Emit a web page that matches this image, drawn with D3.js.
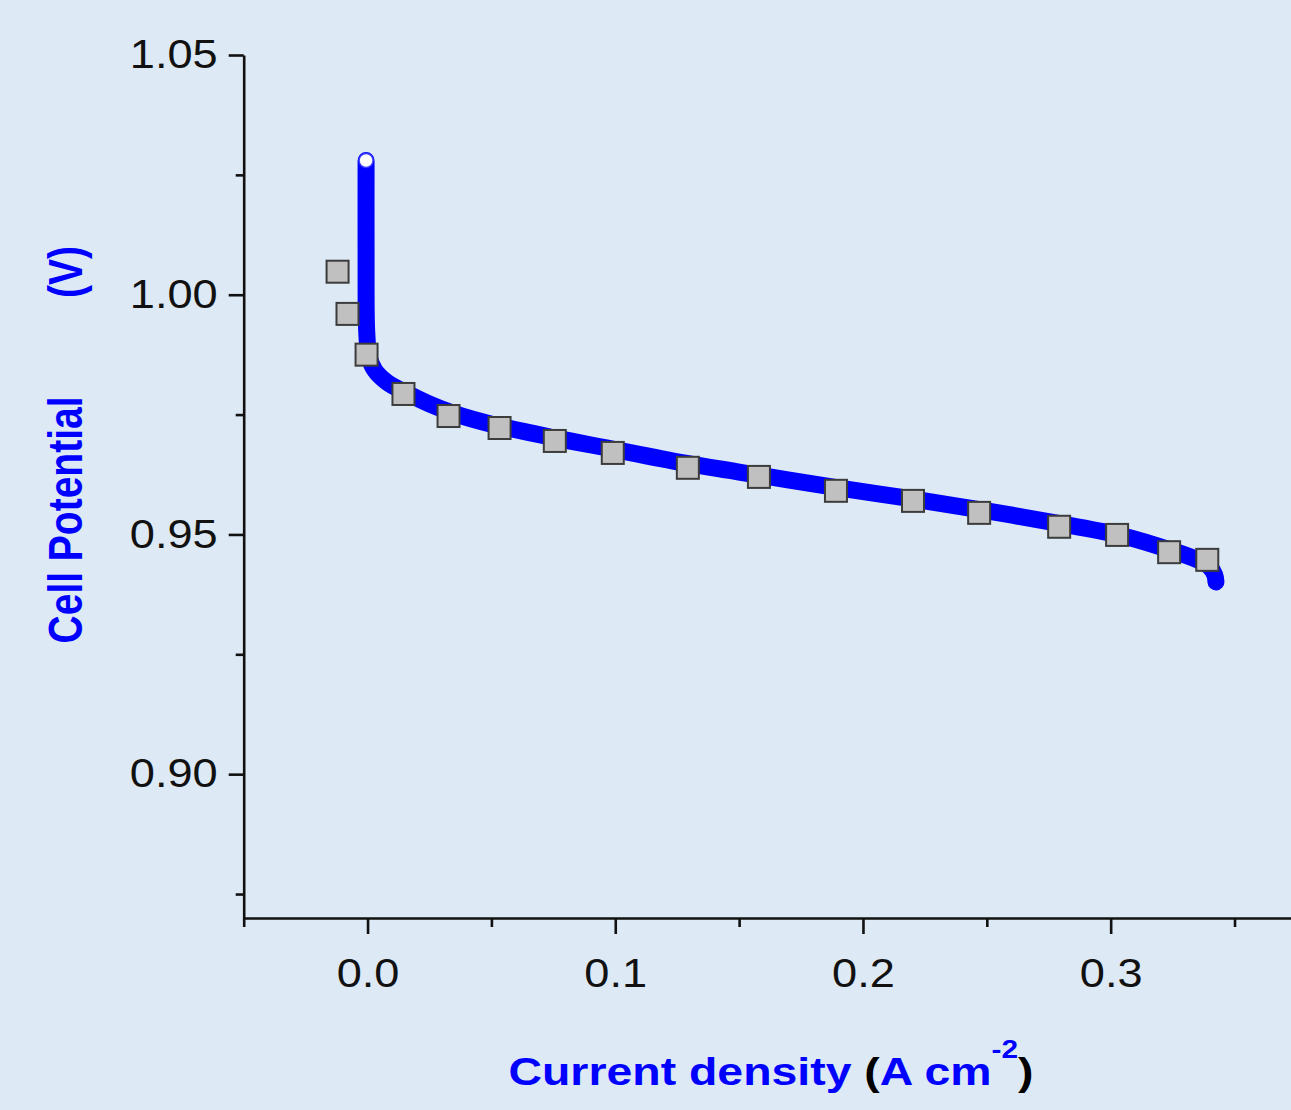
<!DOCTYPE html>
<html>
<head>
<meta charset="utf-8">
<script src="https://cdn.jsdelivr.net/npm/d3@7"></script>
<style>
  html, body { margin: 0; padding: 0; background: #dde9f5; }
  svg { display: block; }
</style>
</head>
<body>
<svg width="1291" height="1110"></svg>
<script>
// model curve (current density, cell potential)
const curveX = [-0.0006, -0.0006, -0.0005, -0.0002, 0.0005, 0.0030, 0.0080, 0.0150, 0.0250, 0.0350,
  0.0500, 0.0750, 0.1000, 0.1300, 0.1600, 0.1900, 0.2200, 0.2500, 0.2800, 0.3050,
  0.3250, 0.3350, 0.3400, 0.3420, 0.3425];
const curveY = [1.0280, 1.0100, 0.9950, 0.9910, 0.9872, 0.9842, 0.9817, 0.9797, 0.9772, 0.9752,
  0.9730, 0.9702, 0.9677, 0.9647, 0.9622, 0.9597, 0.9574, 0.9549, 0.9522, 0.9497,
  0.9466, 0.9447, 0.9432, 0.9416, 0.9401];

// measured points
const measX = [-0.0121, -0.0081, -0.0004, 0.0145, 0.0327, 0.0533, 0.0756, 0.0990, 0.1293,
  0.1580, 0.1891, 0.2202, 0.2469, 0.2792, 0.3026, 0.3236, 0.3390];
const measY = [1.0048, 0.9960, 0.9875, 0.9793, 0.9747, 0.9722, 0.9695, 0.9670, 0.9639,
  0.9620, 0.9591, 0.9570, 0.9545, 0.9516, 0.9499, 0.9463, 0.9447];

const xMajor = [0.0, 0.1, 0.2, 0.3];
const xMinor = [-0.05, 0.05, 0.15, 0.25, 0.35];
const yMajor = [0.90, 0.95, 1.00, 1.05];
const yMinor = [0.875, 0.925, 0.975, 1.025];

const svg = d3.select("svg");
const plotL = 243.7, plotR = 1291, plotT = 55, plotB = 918;
const sx = 1.13;   // tick labels are drawn a bit wide in the original
const sxT = 1.25;  // y title

const x = d3.scaleLinear().domain([-0.05, 0.3728]).range([plotL, plotR]);
const y = d3.scaleLinear().domain([0.87, 1.05]).range([plotB, plotT]);

const font = "'Liberation Sans', Arial, sans-serif";

// axes
const xAxis = svg.append("g").attr("transform", `translate(0,${plotB})`);
xAxis.call(d3.axisBottom(x).tickValues(xMajor).tickSize(16).tickSizeOuter(0).tickPadding(25).tickFormat(d3.format(".1f")));
const xMin = svg.append("g").attr("transform", `translate(0,${plotB})`);
xMin.call(d3.axisBottom(x).tickValues(xMinor).tickSize(9).tickSizeOuter(0).tickFormat(""));
xMin.select(".domain").remove();

const yAxis = svg.append("g").attr("transform", `translate(${plotL},0)`);
yAxis.call(d3.axisLeft(y).tickValues(yMajor).tickSize(15).tickSizeOuter(0).tickPadding(11).tickFormat(d3.format(".2f")));
const yMin = svg.append("g").attr("transform", `translate(${plotL},0)`);
yMin.call(d3.axisLeft(y).tickValues(yMinor).tickSize(8).tickSizeOuter(0).tickFormat(""));
yMin.select(".domain").remove();

svg.selectAll(".domain, .tick line").attr("stroke", "#111").attr("stroke-width", 2.6);
svg.selectAll(".tick text").attr("font-family", font).attr("font-size", 40).attr("fill", "#111")
  .attr("transform", `scale(${sx},1)`);
yAxis.selectAll(".tick text").attr("x", -26 / sx);

// curve
const pts = curveX.map((d, i) => [d, curveY[i]]);
const line = d3.line().x(d => x(d[0])).y(d => y(d[1])).curve(d3.curveCatmullRom.alpha(0.5));
svg.append("path")
  .attr("d", line(pts))
  .attr("fill", "none")
  .attr("stroke", "#0000ff")
  .attr("stroke-width", 17)
  .attr("stroke-linecap", "round")
  .attr("stroke-linejoin", "round");

svg.append("circle")
  .attr("cx", x(curveX[0])).attr("cy", y(curveY[0]))
  .attr("r", 7)
  .attr("fill", "#fff")
  .attr("stroke", "#3a3aff")
  .attr("stroke-width", 1.5);

// measured squares
const sz = 22;
svg.append("g").selectAll("rect")
  .data(measX.map((d, i) => [d, measY[i]]))
  .enter().append("rect")
  .attr("x", d => x(d[0]) - sz / 2)
  .attr("y", d => y(d[1]) - sz / 2)
  .attr("width", sz).attr("height", sz)
  .attr("fill", "#c0c0c0")
  .attr("stroke", "#3c3c3c")
  .attr("stroke-width", 2);

// axis titles
const xt = svg.append("text")
  .attr("transform", `translate(771,1085) scale(1.19,1)`)
  .attr("text-anchor", "middle")
  .attr("font-family", font).attr("font-weight", "bold").attr("font-size", 39)
  .attr("fill", "#0000ff");
xt.append("tspan").text("Current density ");
xt.append("tspan").attr("fill", "#000").text("(");
xt.append("tspan").text("A cm");
xt.append("tspan").attr("font-size", 25).attr("dy", -27).text("-2");
xt.append("tspan").attr("fill", "#000").attr("dy", 27).text(")");

const yt = svg.append("g").attr("transform", `translate(82,0) scale(${sxT},1) rotate(-90)`);
yt.append("text")
  .attr("x", -520).attr("y", 0)
  .attr("text-anchor", "middle")
  .attr("font-family", font).attr("font-weight", "bold").attr("font-size", 39)
  .attr("fill", "#0000ff")
  .text("Cell Potential");
yt.append("text")
  .attr("x", -272).attr("y", 0)
  .attr("text-anchor", "middle")
  .attr("font-family", font).attr("font-weight", "bold").attr("font-size", 39)
  .attr("fill", "#0000ff")
  .text("(V)");
</script>
</body>
</html>
